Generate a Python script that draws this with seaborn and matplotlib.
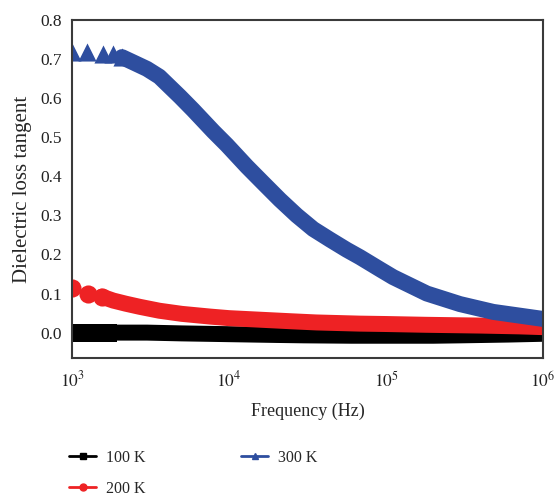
import numpy as np
import pandas as pd
import seaborn as sns
import matplotlib
matplotlib.use("Agg")
from matplotlib import pyplot as plt
from matplotlib.lines import Line2D

# values
freq_100k = [1000, 1120, 1380, 1700, 2000, 3000, 5000, 10000, 20000, 30000, 60000, 100000, 200000, 300000, 600000, 1000000]
tan_100k = [0.0, 0.0, 0.0, 0.0, 0.0, 0.0, -0.002, -0.004, -0.006, -0.007, -0.008, -0.008, -0.008, -0.007, -0.005, -0.003]

freq_200k = [1000, 1260, 1550, 1830, 2200, 2700, 3600, 5000, 7600, 10000, 15800, 25000, 36000, 68000, 100000, 180000, 400000, 700000, 1000000]
tan_200k = [0.113, 0.10, 0.092, 0.082, 0.074, 0.066, 0.056, 0.048, 0.041, 0.037, 0.033, 0.029, 0.026, 0.023, 0.022, 0.02, 0.018, 0.016, 0.014]

freq_300k = [1000, 1250, 1580, 1830, 2080, 2500, 3000, 3600, 4870, 5900, 7940, 9700, 13000, 16500, 21100, 27000, 34400, 44000, 56200, 68300, 91600, 111000, 182000, 296000, 482000, 1000000]
tan_300k = [0.717, 0.717, 0.714, 0.712, 0.705, 0.69, 0.675, 0.655, 0.604, 0.57, 0.515, 0.48, 0.425, 0.383, 0.34, 0.30, 0.265, 0.238, 0.212, 0.193, 0.162, 0.142, 0.10, 0.073, 0.053, 0.035]

labels = ['100 K', '200 K', '300 K']
colors = ['#000000', '#ee2224', '#2e4e9f']
markers = ['s', 'o', '^']
n_loose = [4, 3, 5]  # leading points drawn as separate markers

df = pd.concat([
    pd.DataFrame({'freq': freq_100k, 'tan': tan_100k, 'T': labels[0]}),
    pd.DataFrame({'freq': freq_200k, 'tan': tan_200k, 'T': labels[1]}),
    pd.DataFrame({'freq': freq_300k, 'tan': tan_300k, 'T': labels[2]}),
])

sns.set_style('white')
plt.rcParams['font.family'] = ['Liberation Serif', 'DejaVu Serif']
plt.rcParams['mathtext.fontset'] = 'stix'

fig = plt.figure(figsize=(5.6, 4.96), dpi=100)
ax = fig.add_axes([0.1286, 0.2782, 0.8410, 0.6815])

for lab, col, mk, n in zip(labels, colors, markers, n_loose):
    sub = df[df['T'] == lab]
    # thick band made of overlapping markers in the original
    sns.lineplot(data=sub.iloc[n - 1:], x='freq', y='tan', color=col, linewidth=11.5,
                 ax=ax, legend=False, solid_capstyle='round', solid_joinstyle='round')
    sns.scatterplot(data=sub.head(n), x='freq', y='tan', color=col, marker=mk,
                    s=170, linewidth=0, ax=ax, legend=False)

ax.set_xscale('log')
ax.set_xlim(1e3, 1e6)
ax.set_ylim(-0.065, 0.8)
ax.set_yticks(np.arange(0, 0.81, 0.1))
ax.set_yticklabels([f'{v:.1f}' for v in np.arange(0, 0.81, 0.1)])
ax.set_xticks([1e3, 1e4, 1e5, 1e6])
ax.set_xticklabels([r'$10^3$', r'$10^4$', r'$10^5$', r'$10^6$'])
ax.minorticks_off()
ax.tick_params(length=0, labelsize=12.5, colors='#222222')
ax.tick_params(axis='x', pad=9)
ax.tick_params(axis='y', pad=7)

ax.set_xlabel('Frequency (Hz)', fontsize=13, labelpad=9)
ax.set_ylabel('Dielectric loss tangent', fontsize=15, labelpad=6)

for sp in ax.spines.values():
    sp.set_color('#3a3a3a')
    sp.set_linewidth(1.5)

handles = [Line2D([], [], color=c, marker=m, markersize=5, linewidth=2)
           for c, m in zip(colors, markers)]
fig.legend(handles, labels, loc='upper left', bbox_to_anchor=(0.098, 0.122),
           ncol=2, frameon=False, fontsize=11.5, handlelength=1.7,
           handletextpad=0.6, columnspacing=6.0, labelspacing=0.95)

fig.savefig('out.png', dpi=100)
